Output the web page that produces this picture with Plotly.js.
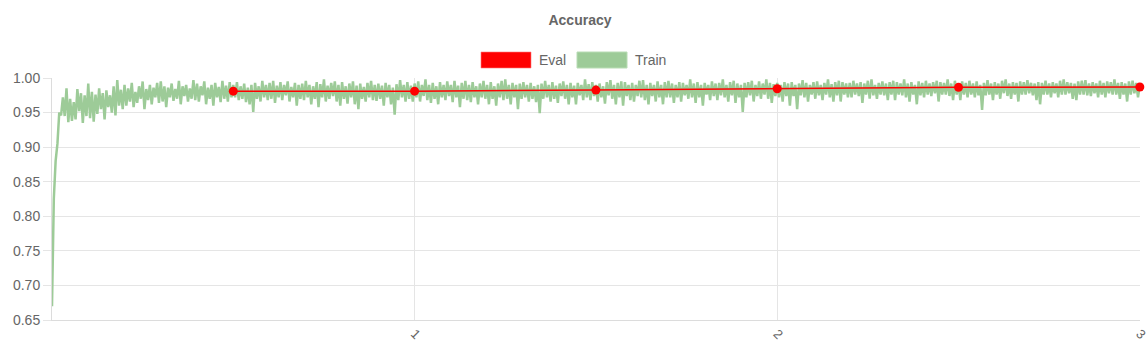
<!DOCTYPE html>
<html>
<head>
<meta charset="utf-8">
<script src="https://cdn.plot.ly/plotly-3.0.1.min.js"></script>
<style>html,body{margin:0;padding:0;background:#fff;}#chart{width:1148px;height:360px;}</style>
</head>
<body>
<div id="chart"></div>
<script>
// Eval accuracy (one point per half epoch)
const evalEpochs = [0.5, 1.0, 1.5, 2.0, 2.5, 3.0];
const evalAcc = [0.981, 0.981, 0.9825, 0.9845, 0.9865, 0.987];

// Train accuracy, logged every 0.005 epoch (0.000 .. 3.000), 20 values per 0.1 epoch row
const trainStep = 0.005;
const trainAcc = [
  0.670, 0.825, 0.880, 0.905, 0.950, 0.946, 0.972, 0.945, 0.985, 0.936, 0.970, 0.938, 0.965, 0.940, 0.984, 0.952, 0.978, 0.935, 0.975, 0.945,
  0.992, 0.942, 0.980, 0.937, 0.976, 0.948, 0.985, 0.955, 0.978, 0.940, 0.982, 0.958, 0.975, 0.950, 0.988, 0.946, 0.997, 0.960, 0.983, 0.955,
  0.990, 0.960, 0.985, 0.966, 0.993, 0.958, 0.980, 0.964, 0.988, 0.970, 0.995, 0.955, 0.984, 0.968, 0.990, 0.962, 0.986, 0.972, 0.993, 0.964,
  0.995, 0.966, 0.988, 0.958, 0.986, 0.972, 0.992, 0.967, 0.984, 0.970, 0.996, 0.962, 0.988, 0.974, 0.990, 0.966, 0.985, 0.970, 0.997, 0.968,
  0.992, 0.966, 0.988, 0.975, 0.995, 0.962, 0.986, 0.970, 0.990, 0.960, 0.993, 0.972, 0.987, 0.965, 0.996, 0.970, 0.989, 0.966, 0.994, 0.972,
  0.990, 0.972, 0.994, 0.968, 0.988, 0.970, 0.992, 0.965, 0.986, 0.962, 0.990, 0.951, 0.993, 0.970, 0.988, 0.966, 0.996, 0.972, 0.990, 0.968,
  0.993, 0.970, 0.996, 0.964, 0.989, 0.972, 0.994, 0.968, 0.990, 0.975, 0.995, 0.966, 0.987, 0.972, 0.993, 0.960, 0.990, 0.970, 0.992, 0.968,
  0.996, 0.972, 0.990, 0.962, 0.988, 0.970, 0.994, 0.958, 0.991, 0.972, 0.998, 0.966, 0.989, 0.970, 0.993, 0.974, 0.995, 0.966, 0.990, 0.960,
  0.994, 0.970, 0.988, 0.963, 0.992, 0.972, 0.995, 0.962, 0.989, 0.955, 0.992, 0.970, 0.987, 0.966, 0.993, 0.972, 0.996, 0.968, 0.990, 0.967,
  0.992, 0.970, 0.989, 0.960, 0.993, 0.972, 0.990, 0.962, 0.986, 0.947, 0.991, 0.968, 0.997, 0.972, 0.990, 0.966, 0.994, 0.970, 0.989, 0.966,
  0.992, 0.972, 0.995, 0.966, 0.990, 0.974, 0.998, 0.968, 0.990, 0.964, 0.993, 0.970, 0.988, 0.962, 0.994, 0.972, 0.990, 0.968, 0.995, 0.974,
  0.990, 0.965, 0.996, 0.972, 0.989, 0.958, 0.993, 0.970, 0.996, 0.968, 0.990, 0.965, 0.994, 0.972, 0.988, 0.962, 0.992, 0.972, 0.996, 0.970,
  0.990, 0.962, 0.994, 0.970, 0.988, 0.960, 0.992, 0.972, 0.996, 0.968, 0.998, 0.970, 0.990, 0.962, 0.993, 0.972, 0.990, 0.955, 0.992, 0.970,
  0.994, 0.972, 0.990, 0.966, 0.993, 0.970, 0.988, 0.965, 0.990, 0.949, 0.992, 0.970, 0.996, 0.972, 0.990, 0.966, 0.994, 0.970, 0.989, 0.964,
  0.992, 0.974, 0.995, 0.970, 0.990, 0.962, 0.993, 0.972, 0.989, 0.962, 0.993, 0.975, 0.990, 0.968, 0.998, 0.972, 0.991, 0.968, 0.994, 0.974,
  0.990, 0.966, 0.992, 0.972, 0.988, 0.963, 0.994, 0.975, 0.997, 0.970, 0.990, 0.962, 0.993, 0.972, 0.995, 0.960, 0.994, 0.974, 0.990, 0.968,
  0.993, 0.966, 0.990, 0.974, 0.996, 0.972, 0.997, 0.968, 0.990, 0.962, 0.993, 0.974, 0.990, 0.966, 0.995, 0.972, 0.990, 0.962, 0.994, 0.972,
  0.996, 0.972, 0.992, 0.964, 0.990, 0.972, 0.994, 0.966, 0.993, 0.975, 0.990, 0.970, 0.998, 0.972, 0.992, 0.964, 0.994, 0.972, 0.990, 0.960,
  0.993, 0.976, 0.990, 0.968, 0.995, 0.974, 0.992, 0.968, 0.993, 0.975, 0.998, 0.972, 0.990, 0.966, 0.994, 0.975, 0.996, 0.964, 0.992, 0.972,
  0.990, 0.951, 0.993, 0.972, 0.994, 0.975, 0.996, 0.966, 0.990, 0.974, 0.995, 0.970, 0.992, 0.976, 0.998, 0.970, 0.993, 0.964, 0.991, 0.974,
  0.993, 0.972, 0.990, 0.966, 0.994, 0.974, 0.992, 0.960, 0.994, 0.974, 0.990, 0.955, 0.992, 0.975, 0.997, 0.972, 0.993, 0.966, 0.990, 0.976,
  0.994, 0.970, 0.995, 0.975, 0.990, 0.968, 0.993, 0.976, 0.998, 0.972, 0.991, 0.966, 0.994, 0.975, 0.996, 0.966, 0.994, 0.976, 0.992, 0.972,
  0.993, 0.972, 0.996, 0.976, 0.992, 0.974, 0.994, 0.964, 0.992, 0.976, 0.996, 0.970, 0.998, 0.975, 0.990, 0.970, 0.993, 0.976, 0.995, 0.975,
  0.992, 0.968, 0.994, 0.976, 0.996, 0.968, 0.994, 0.976, 0.992, 0.975, 0.998, 0.972, 0.992, 0.966, 0.994, 0.976, 0.990, 0.962, 0.995, 0.975,
  0.993, 0.972, 0.996, 0.976, 0.992, 0.974, 0.994, 0.978, 0.996, 0.966, 0.994, 0.976, 0.993, 0.976, 0.998, 0.974, 0.992, 0.968, 0.996, 0.976,
  0.992, 0.968, 0.995, 0.976, 0.993, 0.972, 0.996, 0.976, 0.992, 0.972, 0.995, 0.975, 0.990, 0.954, 0.993, 0.975, 0.997, 0.976, 0.992, 0.968,
  0.994, 0.976, 0.992, 0.970, 0.996, 0.978, 0.998, 0.974, 0.992, 0.970, 0.994, 0.976, 0.993, 0.966, 0.995, 0.976, 0.994, 0.976, 0.997, 0.978,
  0.993, 0.975, 0.992, 0.968, 0.994, 0.962, 0.993, 0.976, 0.996, 0.976, 0.992, 0.972, 0.994, 0.978, 0.992, 0.972, 0.996, 0.976, 0.998, 0.976,
  0.994, 0.978, 0.993, 0.970, 0.992, 0.968, 0.995, 0.976, 0.996, 0.976, 0.997, 0.975, 0.992, 0.974, 0.994, 0.978, 0.992, 0.972, 0.996, 0.976,
  0.993, 0.972, 0.995, 0.978, 0.994, 0.976, 0.998, 0.976, 0.993, 0.970, 0.994, 0.976, 0.992, 0.966, 0.995, 0.976, 0.996, 0.978, 0.993, 0.972,
  0.990
];
const trainEpochs = trainAcc.map((_, i) => +(i * trainStep).toFixed(3));

const yTicks = [0.65, 0.70, 0.75, 0.80, 0.85, 0.90, 0.95, 1.00];
const xTicks = [1, 2, 3];
const seriesNames = ['Eval', 'Train'];
const evalColor = '#ff0000';
const trainColor = '#9dcb98';

const FONT = '"Liberation Sans", Arial, Helvetica, sans-serif';

const traces = [
  {
    x: trainEpochs, y: trainAcc, type: 'scatter', mode: 'lines',
    name: seriesNames[1], line: {color: trainColor, width: 2.5}, hoverinfo: 'x+y'
  },
  {
    x: evalEpochs, y: evalAcc, type: 'scatter', mode: 'lines+markers',
    name: seriesNames[0], line: {color: evalColor, width: 1.5},
    marker: {color: evalColor, size: 9}, cliponaxis: false
  }
];

const layout = {
  width: 1148, height: 360,
  margin: {l: 52, r: 8, t: 78, b: 40},
  paper_bgcolor: '#fff', plot_bgcolor: '#fff',
  font: {family: FONT, color: '#666', size: 14},
  showlegend: false,
  title: {
    text: '<b>Accuracy</b>', font: {family: FONT, size: 14, color: '#666'},
    x: 580/1148, xref: 'container', xanchor: 'center',
    y: 1 - 20/360, yref: 'container', yanchor: 'middle'
  },
  xaxis: {
    range: [0, 3.0005], tickvals: xTicks, ticktext: xTicks.map(String),
    tickangle: 45, ticklabeloverflow: 'allow',
    showgrid: true, gridcolor: '#e5e5e5', gridwidth: 1,
    zeroline: false, showline: true, linecolor: '#dcdcdc', linewidth: 1,
    ticks: '', tickfont: {size: 13, color: '#666'}, fixedrange: true
  },
  yaxis: {
    range: [0.65, 1.0], tickvals: yTicks, tickformat: '.2f',
    showgrid: true, gridcolor: '#e5e5e5', gridwidth: 1,
    zeroline: false, showline: true, linecolor: '#dcdcdc', linewidth: 1,
    ticks: 'outside', ticklen: 8, tickcolor: '#e5e5e5',
    tickfont: {size: 14, color: '#666'}, fixedrange: true
  },
  shapes: [
    {type: 'rect', xref: 'paper', yref: 'paper', x0: 429/1088, x1: 479/1088,
     y0: (320-68)/242, y1: (320-52)/242, fillcolor: evalColor, line: {color: 'rgba(255,120,120,0.6)', width: 1}},
    {type: 'rect', xref: 'paper', yref: 'paper', x0: 525/1088, x1: 575/1088,
     y0: (320-68)/242, y1: (320-52)/242, fillcolor: trainColor, line: {color: '#b8dcb4', width: 1}}
  ],
  annotations: [
    {xref: 'paper', yref: 'paper', x: 485/1088, y: (320-60)/242, xanchor: 'left', yanchor: 'middle',
     text: seriesNames[0], showarrow: false, font: {family: FONT, size: 14, color: '#666'}},
    {xref: 'paper', yref: 'paper', x: 581/1088, y: (320-60)/242, xanchor: 'left', yanchor: 'middle',
     text: seriesNames[1], showarrow: false, font: {family: FONT, size: 14, color: '#666'}}
  ]
};

Plotly.newPlot('chart', traces, layout, {displayModeBar: false, staticPlot: true});
</script>
</body>
</html>
